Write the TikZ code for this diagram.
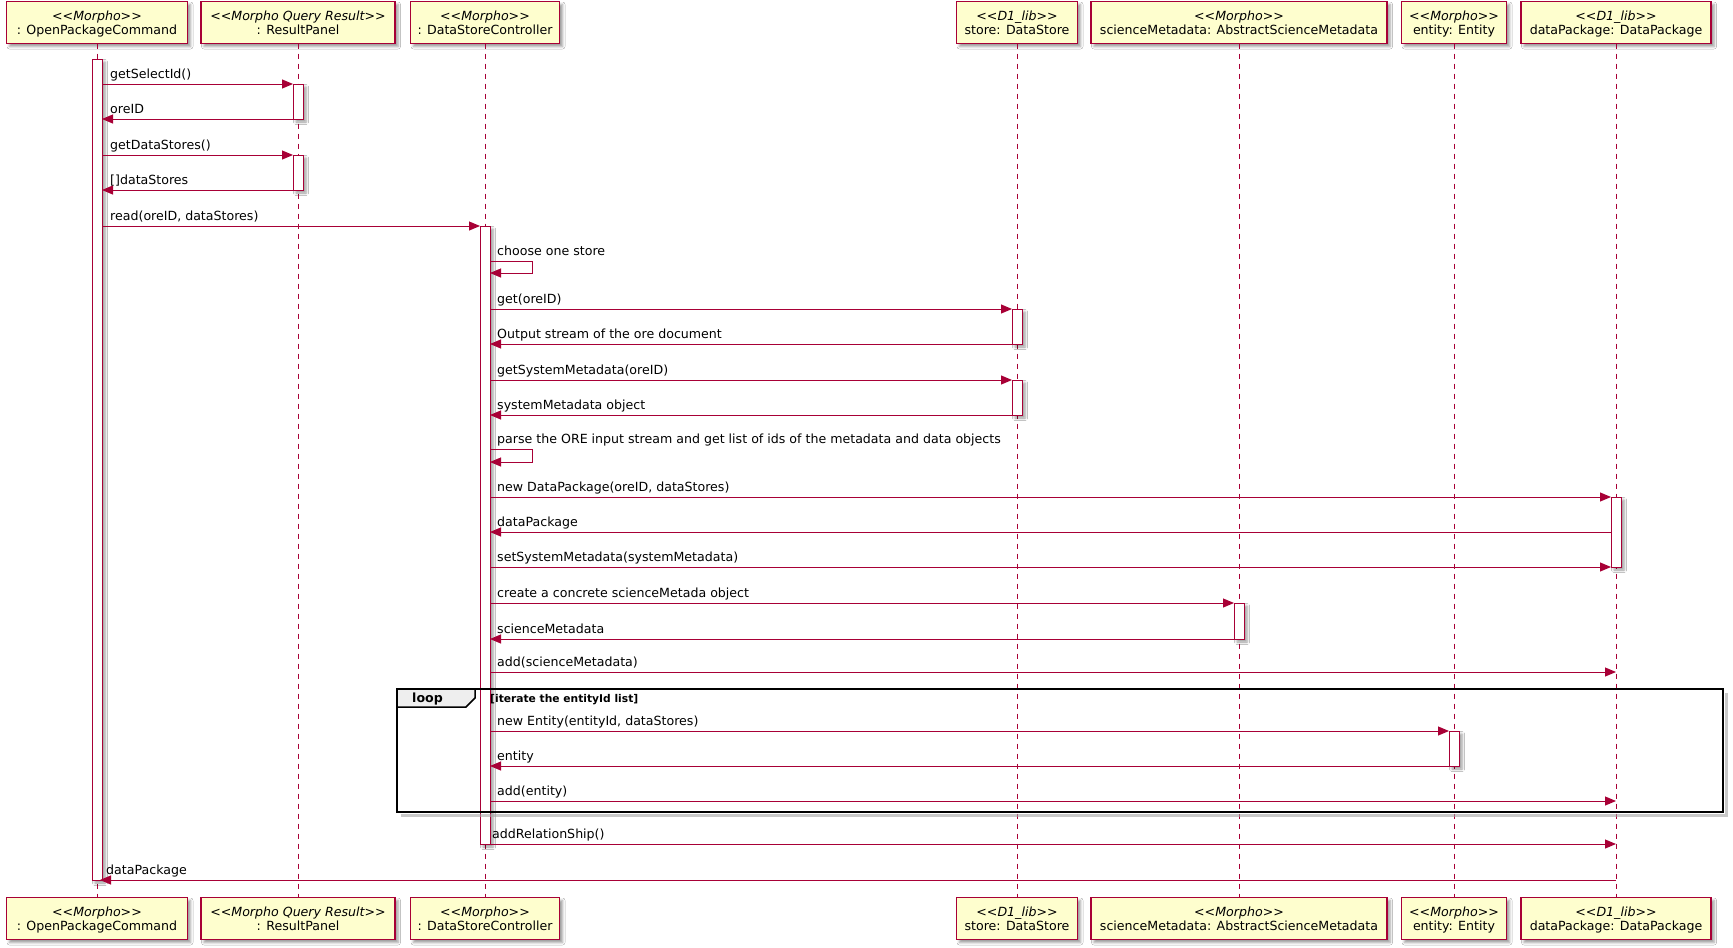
\documentclass[tikz,border=0pt]{standalone}
\usepackage{fontspec}
\setmainfont{DejaVu Sans}
\usetikzlibrary{arrows.meta,shadows,shadows.blur}
\definecolor{pu}{HTML}{A80036}
\definecolor{pufill}{HTML}{FEFECE}
\definecolor{tabfill}{HTML}{EEEEEE}
\begin{document}
\begin{tikzpicture}[x=1pt,y=-1pt,
  shd/.style={blur shadow={shadow xshift=3pt,shadow yshift=-3pt,shadow blur radius=2.5pt,shadow opacity=40}},
  part/.style={draw=pu,fill=pufill,line width=1.5pt,minimum height=42pt,inner sep=0pt,outer sep=0pt,shd},
  stereo/.style={anchor=base,inner sep=0pt,font=\fontsize{12.6}{14}\selectfont\itshape},
  pname/.style={anchor=base,inner sep=0pt,font=\fontsize{12.6}{14}\selectfont},
  life/.style={draw=pu,line width=1pt,dash pattern=on 5pt off 5pt},
  act/.style={draw=pu,fill=white,line width=1pt,minimum width=10pt,inner sep=0pt,outer sep=0pt,anchor=north,shd},
  msg/.style={draw=pu,line width=1pt,-{Triangle[length=11pt,width=9pt,fill=pu]}},
  lbl/.style={anchor=base west,inner sep=0pt,font=\fontsize{12.6}{14}\selectfont},
  looptxt/.style={anchor=base west,inner sep=0pt,font=\fontsize{12.6}{14}\selectfont\bfseries},
  condtxt/.style={anchor=base west,inner sep=0pt,font=\fontsize{10.7}{12}\selectfont\bfseries}
]
\useasboundingbox (0,0) rectangle (1733,948);
\fill[white] (0,0) rectangle (1733,948);

% participant boxes (top)
\node[part,minimum width=181pt] (p1) at (97,22.5) {};
\node[part,minimum width=194pt] (p2) at (298,22.5) {};
\node[part,minimum width=149pt] (p3) at (485,22.5) {};
\node[part,minimum width=121pt] (p4) at (1017,22.5) {};
\node[part,minimum width=296pt] (p5) at (1239,22.5) {};
\node[part,minimum width=105pt] (p6) at (1454,22.5) {};
\node[part,minimum width=190pt] (p7) at (1616,22.5) {};
% participant boxes (bottom)
\node[part,minimum width=181pt] (q1) at (97,918.5) {};
\node[part,minimum width=194pt] (q2) at (298,918.5) {};
\node[part,minimum width=149pt] (q3) at (485,918.5) {};
\node[part,minimum width=121pt] (q4) at (1017,918.5) {};
\node[part,minimum width=296pt] (q5) at (1239,918.5) {};
\node[part,minimum width=105pt] (q6) at (1454,918.5) {};
\node[part,minimum width=190pt] (q7) at (1616,918.5) {};

% texts of boxes
\foreach \n/\s/\t in {1/{<{}<Morpho>{}>}/{: OpenPackageCommand},
                      2/{<{}<Morpho Query Result>{}>}/{: ResultPanel},
                      3/{<{}<Morpho>{}>}/{: DataStoreController},
                      4/{<{}<D1\_lib>{}>}/{store: DataStore},
                      5/{<{}<Morpho>{}>}/{scienceMetadata: AbstractScienceMetadata},
                      6/{<{}<Morpho>{}>}/{entity: Entity},
                      7/{<{}<D1\_lib>{}>}/{dataPackage: DataPackage}}{
  \node[stereo] (ps\n) at ([yshift=-19pt]p\n.north) {\s};
  \node[pname] (pn\n) at ([yshift=-33pt]p\n.north) {\t};
  \node[stereo] (qs\n) at ([yshift=-19pt]q\n.north) {\s};
  \node[pname] (qn\n) at ([yshift=-33pt]q\n.north) {\t};
}

% lifelines
\foreach \n in {1,...,7}{\draw[life] (p\n.south) -- (q\n.north);}

% activations
\node[act,minimum height=821pt] (a1) at (97,59) {};
\node[act,minimum height=35pt] (a2) at (298,84) {};
\node[act,minimum height=35pt] (a3) at (298,155) {};
\node[act,minimum height=618pt] (a4) at (485,226) {};
\node[act,minimum height=35pt] (a5) at (1017,309) {};
\node[act,minimum height=35pt] (a6) at (1017,380) {};
\node[act,minimum height=70pt] (a7) at (1616,497) {};
\node[act,minimum height=36pt] (a8) at (1239,603) {};
\node[act,minimum height=35pt] (a9) at (1454,731) {};

% messages
\draw[msg] (a1.east |- a2.north) -- (a2.north west);
\node[lbl] at (110,78) {getSelectId()};
\draw[msg] (a2.south west) -- (a1.east |- a2.south);
\node[lbl] at (110,113) {oreID};
\draw[msg] (a1.east |- a3.north) -- (a3.north west);
\node[lbl] at (110,149) {getDataStores()};
\draw[msg] (a3.south west) -- (a1.east |- a3.south);
\node[lbl] at (110,184) {[]dataStores};
\draw[msg] (a1.east |- a4.north) -- (a4.north west);
\node[lbl] at (110,220) {read(oreID, dataStores)};

\draw[msg] (a4.east |- 0,261) -- ++(42,0) -- ++(0,12) -- (a4.east |- 0,273);
\node[lbl] at (497,255) {choose one store};

\draw[msg] (a4.east |- a5.north) -- (a5.north west);
\node[lbl] at (497,303) {get(oreID)};
\draw[msg] (a5.south west) -- (a4.east |- a5.south);
\node[lbl] at (497,338) {Output stream of the ore document};
\draw[msg] (a4.east |- a6.north) -- (a6.north west);
\node[lbl] at (497,374) {getSystemMetadata(oreID)};
\draw[msg] (a6.south west) -- (a4.east |- a6.south);
\node[lbl] at (497,409) {systemMetadata object};

\draw[msg] (a4.east |- 0,449) -- ++(42,0) -- ++(0,13) -- (a4.east |- 0,462);
\node[lbl] at (497,443) {parse the ORE input stream and get list of ids of the metadata and data objects};

\draw[msg] (a4.east |- a7.north) -- (a7.north west);
\node[lbl] at (497,491) {new DataPackage(oreID, dataStores)};
\draw[msg] (a7.west |- 0,532) -- (a4.east |- 0,532);
\node[lbl] at (497,526) {dataPackage};
\draw[msg] (a4.east |- a7.south) -- (a7.south west);
\node[lbl] at (497,561) {setSystemMetadata(systemMetadata)};

\draw[msg] (a4.east |- a8.north) -- (a8.north west);
\node[lbl] at (497,597) {create a concrete scienceMetada object};
\draw[msg] (a8.south west) -- (a4.east |- a8.south);
\node[lbl] at (497,633) {scienceMetadata};
\draw[msg] (a4.east |- 0,672) -- (p7 |- 0,672);
\node[lbl] at (497,666) {add(scienceMetadata)};

\draw[msg] (a4.east |- a9.north) -- (a9.north west);
\node[lbl] at (497,725) {new Entity(entityId, dataStores)};
\draw[msg] (a9.south west) -- (a4.east |- a9.south);
\node[lbl] at (497,760) {entity};
\draw[msg] (a4.east |- 0,801) -- (p7 |- 0,801);
\node[lbl] at (497,795) {add(entity)};

\draw[msg] (a4.south) -- (p7 |- a4.south);
\node[lbl] at (492,838) {addRelationShip()};
\draw[msg] (p7 |- a1.south) -- ([xshift=3pt]a1.south);
\node[lbl] at (106,874) {dataPackage};

% loop frame
\draw[black!35,line width=2.5pt,opacity=0.6] (1726.5,693) -- (1726.5,815.5) -- (401,815.5);
\draw[line width=2pt] (397,689) rectangle (1723,812);
\draw[line width=1.5pt,fill=tabfill] (397,689) -- (475,689) -- (475,698) -- (466,707) -- (397,707) -- cycle;
\node[looptxt] (looplbl) at (412,702.5) {loop};
\node[condtxt] (loopcond) at (490,702) {[iterate the entityId list]};
\end{tikzpicture}
\end{document}
